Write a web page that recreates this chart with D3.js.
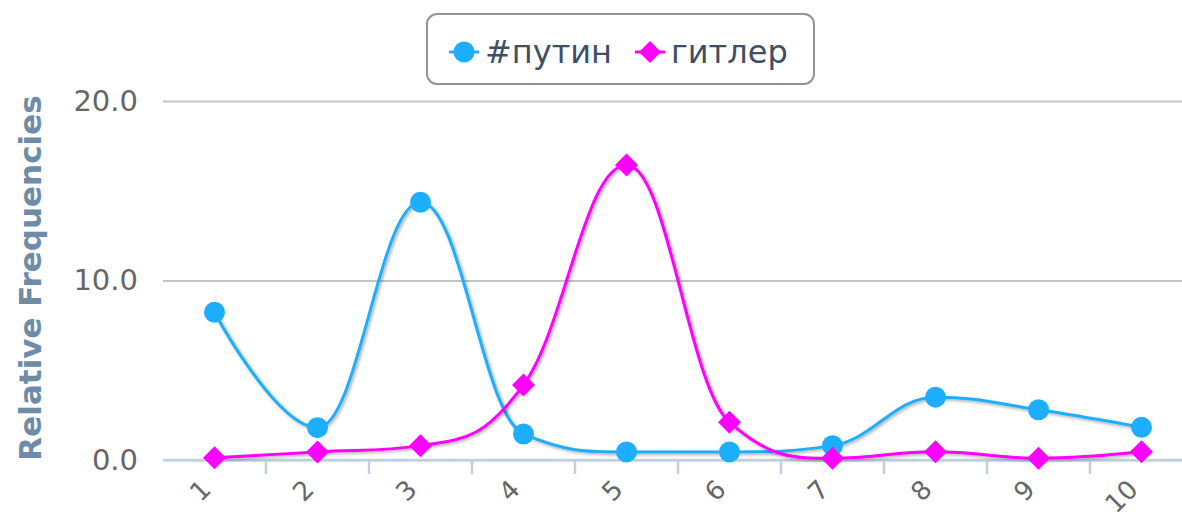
<!DOCTYPE html>
<html>
<head>
<meta charset="utf-8">
<script src="https://cdn.jsdelivr.net/npm/d3@7/dist/d3.min.js"></script>
<style>
  body { margin: 0; background: #fff; }
  svg { display: block; font-family: 'DejaVu Sans', sans-serif; }
</style>
</head>
<body>
<div id="chart"></div>
<script>
// data
const categories = ['1', '2', '3', '4', '5', '6', '7', '8', '9', '10'];
const putinValues = [8.23, 1.8, 14.36, 1.45, 0.45, 0.45, 0.8, 3.5, 2.8, 1.82];
const hitlerValues = [0.12, 0.45, 0.8, 4.18, 16.43, 2.1, 0.1, 0.46, 0.1, 0.46];
const yTicks = [0, 10, 20];
const seriesNames = ['#путин', 'гитлер'];
const seriesColors = ['#1eaeff', '#ff00ff'];

const width = 1182, height = 519;
const plot = { left: 163, right: 1193, top: 101, bottom: 460 };

const svg = d3.select('#chart')
  .append('svg')
  .attr('width', width)
  .attr('height', height);

// drop shadow like the original lines
const defs = svg.append('defs');
const shadow = defs.append('filter').attr('id', 'shadow')
  .attr('x', '-5%').attr('y', '-5%').attr('width', '110%').attr('height', '110%');
shadow.append('feDropShadow')
  .attr('dx', 1.5).attr('dy', 1.5).attr('stdDeviation', 1.4)
  .attr('flood-color', '#000').attr('flood-opacity', 0.35);

const x = d3.scaleBand().domain(categories).range([plot.left, plot.right]);
const y = d3.scaleLinear().domain([0, 20]).range([plot.bottom, plot.top]);
const cx = d => x(d) + x.bandwidth() / 2;

// gridlines + y labels
const yAxis = svg.append('g')
  .attr('transform', `translate(${plot.left},0)`)
  .call(d3.axisLeft(y).tickValues(yTicks).tickFormat(d3.format('.1f'))
    .tickSize(-(plot.right - plot.left)).tickPadding(25));
yAxis.select('.domain').remove();
yAxis.selectAll('.tick line').attr('stroke', '#c4c4c4').attr('stroke-width', 2);
yAxis.selectAll('.tick text')
  .attr('font-family', 'DejaVu Sans').attr('font-size', 29).attr('fill', '#666');

// x axis line and ticks between categories
const xAxis = svg.append('g')
  .attr('transform', `translate(0,${plot.bottom})`)
  .call(d3.axisBottom(x).tickSize(0).tickPadding(0));
xAxis.select('.domain').attr('stroke', '#c0d0e0').attr('stroke-width', 2.5)
  .attr('d', `M${plot.left},0H${plot.right}`);
xAxis.selectAll('.tick text')
  .attr('font-family', 'DejaVu Sans').attr('font-size', 26).attr('fill', '#666')
  .attr('text-anchor', 'end').attr('dy', 0).attr('y', 0)
  .attr('transform', 'translate(-2,31) rotate(-45)');
xAxis.selectAll('.tickmark')
  .data(categories.slice(1))
  .join('line')
  .attr('x1', d => x(d)).attr('x2', d => x(d))
  .attr('y1', 0).attr('y2', 14)
  .attr('stroke', '#c0d0e0').attr('stroke-width', 2.5);

// Highcharts-style spline
function splinePath(pts) {
  const smoothing = 1.5, denom = smoothing + 1;
  let d = '', prevRight = null;
  pts.forEach((p, i) => {
    if (i === 0) { d += `M${p[0]},${p[1]}`; return; }
    const last = pts[i - 1], next = pts[i + 1];
    let lcx = p[0], lcy = p[1], rc = null;
    if (next) {
      lcx = (smoothing * p[0] + last[0]) / denom;
      lcy = (smoothing * p[1] + last[1]) / denom;
      const rcx = (smoothing * p[0] + next[0]) / denom;
      let rcy = (smoothing * p[1] + next[1]) / denom;
      const corr = (rcy - lcy) * (rcx - p[0]) / (rcx - lcx) + p[1] - rcy;
      lcy += corr; rcy += corr;
      if (lcy > last[1] && lcy > p[1]) { lcy = Math.max(last[1], p[1]); rcy = 2 * p[1] - lcy; }
      else if (lcy < last[1] && lcy < p[1]) { lcy = Math.min(last[1], p[1]); rcy = 2 * p[1] - lcy; }
      if (rcy > next[1] && rcy > p[1]) { rcy = Math.max(next[1], p[1]); lcy = 2 * p[1] - rcy; }
      else if (rcy < next[1] && rcy < p[1]) { rcy = Math.min(next[1], p[1]); lcy = 2 * p[1] - rcy; }
      rc = [rcx, rcy];
    }
    const c1 = prevRight || last;
    d += `C${c1[0]},${c1[1]} ${lcx},${lcy} ${p[0]},${p[1]}`;
    prevRight = rc;
  });
  return d;
}

const diamond = r => `M0,${-r}L${r},0L0,${r}L${-r},0Z`;

const series = [putinValues, hitlerValues];
series.forEach((vals, s) => {
  const g = svg.append('g');
  const pts = vals.map((v, i) => [cx(categories[i]), y(v)]);
  g.append('path')
    .attr('d', splinePath(pts))
    .attr('fill', 'none')
    .attr('stroke', seriesColors[s])
    .attr('stroke-width', 3)
    .attr('filter', 'url(#shadow)');
  if (s === 0) {
    g.selectAll('circle').data(vals).join('circle')
      .attr('cx', (d, i) => cx(categories[i]))
      .attr('cy', d => y(d))
      .attr('r', 10.5)
      .attr('fill', seriesColors[s]);
  } else {
    g.selectAll('path.m').data(vals).join('path')
      .attr('class', 'm')
      .attr('transform', (d, i) => `translate(${cx(categories[i])},${y(d)})`)
      .attr('d', diamond(11.5))
      .attr('fill', seriesColors[s]);
  }
});

// y axis title
svg.append('text')
  .attr('transform', 'translate(41,278) rotate(-90)')
  .attr('text-anchor', 'middle')
  .attr('font-family', 'DejaVu Sans')
  .attr('font-weight', 'bold')
  .attr('font-size', 31)
  .attr('fill', '#6e8ba8')
  .text('Relative Frequencies');

// legend
const legend = svg.append('g');
legend.append('rect')
  .attr('x', 427).attr('y', 14).attr('width', 387).attr('height', 70)
  .attr('rx', 10)
  .attr('fill', '#fff').attr('stroke', '#949494').attr('stroke-width', 2);
const legendX = [464, 650];
seriesNames.forEach((name, s) => {
  const item = legend.append('g').attr('transform', `translate(${legendX[s]},52)`);
  item.append('line')
    .attr('x1', -15).attr('x2', 15)
    .attr('stroke', seriesColors[s]).attr('stroke-width', 3);
  if (s === 0) {
    item.append('circle').attr('r', 10.5).attr('fill', seriesColors[s]);
  } else {
    item.append('path').attr('d', diamond(11)).attr('fill', seriesColors[s]);
  }
  item.append('text')
    .attr('x', 21).attr('y', 11)
    .attr('font-family', 'DejaVu Sans')
    .attr('font-size', 32)
    .attr('fill', '#3d4f66')
    .text(name);
});
</script>
</body>
</html>
